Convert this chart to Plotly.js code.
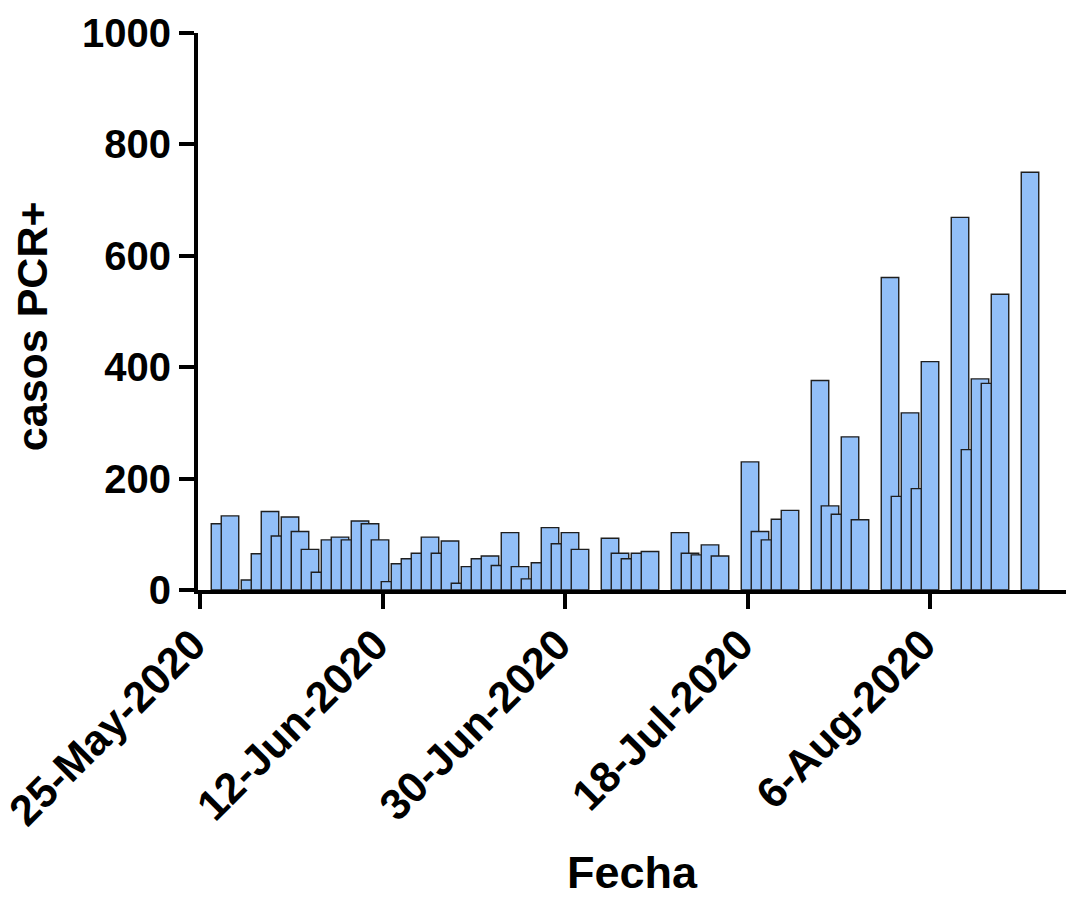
<!DOCTYPE html>
<html>
<head>
<meta charset="utf-8">
<script src="https://cdn.plot.ly/plotly-3.0.1.min.js"></script>
<style>
  html, body { margin: 0; padding: 0; background: #ffffff; }
  #chart { width: 1068px; height: 897px; }
</style>
</head>
<body>
<div id="chart"></div>
<script>
// Daily PCR-positive cases
const fechas = [
  '2020-05-27', '2020-05-28', '2020-05-30', '2020-05-31', '2020-06-01', '2020-06-02',
  '2020-06-03', '2020-06-04', '2020-06-05', '2020-06-06', '2020-06-07', '2020-06-08',
  '2020-06-09', '2020-06-10', '2020-06-11', '2020-06-12', '2020-06-13', '2020-06-14',
  '2020-06-15', '2020-06-16', '2020-06-17', '2020-06-18', '2020-06-19', '2020-06-20',
  '2020-06-21', '2020-06-22', '2020-06-23', '2020-06-24', '2020-06-25', '2020-06-26',
  '2020-06-27', '2020-06-28', '2020-06-29', '2020-06-30', '2020-07-01', '2020-07-02',
  '2020-07-05', '2020-07-06', '2020-07-07', '2020-07-08', '2020-07-09',
  '2020-07-12', '2020-07-13', '2020-07-14', '2020-07-15', '2020-07-16',
  '2020-07-19', '2020-07-20', '2020-07-21', '2020-07-22', '2020-07-23',
  '2020-07-26', '2020-07-27', '2020-07-28', '2020-07-29', '2020-07-30',
  '2020-08-02', '2020-08-03', '2020-08-04', '2020-08-05', '2020-08-06',
  '2020-08-09', '2020-08-10', '2020-08-11', '2020-08-12', '2020-08-13',
  '2020-08-16'
];
const casos = [
  119, 133, 18, 65, 141, 97,
  131, 105, 73, 32, 90, 95,
  90, 124, 119, 90, 15, 47,
  56, 66, 95, 66, 88, 12,
  42, 56, 61, 44, 103, 42,
  20, 49, 112, 83, 103, 73,
  93, 66, 56, 66, 69,
  103, 66, 63, 81, 61,
  230, 105, 90, 127, 143,
  376, 151, 136, 275, 126,
  561, 168, 318, 182, 410,
  669, 252, 379, 371, 531,
  750
];

// Date ticks (evenly spaced every 18.25 days)
const tickFechas = ['2020-05-25 00:00', '2020-06-12 06:00', '2020-06-30 12:00', '2020-07-18 18:00', '2020-08-06 00:00'];
const tickTextos = ['25-May-2020', '12-Jun-2020', '30-Jun-2020', '18-Jul-2020', '6-Aug-2020'];
const yTicks = [0, 200, 400, 600, 800, 1000];

const tituloX = 'Fecha';
const tituloY = 'casos PCR+';

const DAY = 86400000;
const fontFam = 'Arial, "Liberation Sans", sans-serif';

const trace = {
  type: 'bar',
  x: fechas,
  y: casos,
  width: fechas.map(() => 1.75 * DAY),
  marker: {
    color: '#92bff8',
    line: { color: '#1f1f1f', width: 1.4 }
  },
  hoverinfo: 'x+y'
};

const layout = {
  width: 1068,
  height: 897,
  margin: { l: 198, r: 2, t: 33, b: 307 },
  paper_bgcolor: '#ffffff',
  plot_bgcolor: '#ffffff',
  showlegend: false,
  font: { family: fontFam, color: '#000000' },
  xaxis: {
    type: 'date',
    range: ['2020-05-24 19:12', '2020-08-19 14:24'],
    tickmode: 'array',
    tickvals: tickFechas,
    ticktext: tickTextos,
    tickangle: -45,
    ticks: 'outside',
    ticklen: 15,
    tickwidth: 4,
    tickcolor: '#000000',
    ticklabelshift: -7,
    ticklabelstandoff: -7,
    ticklabeloverflow: 'allow',
    showline: true,
    linewidth: 4,
    linecolor: '#000000',
    showgrid: false,
    zeroline: false,
    automargin: false,
    tickfont: { family: fontFam, size: 43, weight: 'bold', color: '#000000' },
    fixedrange: true
  },
  yaxis: {
    range: [0, 1000],
    tickmode: 'array',
    tickvals: yTicks,
    ticks: 'outside',
    ticklen: 15,
    tickwidth: 4,
    tickcolor: '#000000',
    showline: true,
    linewidth: 4,
    linecolor: '#000000',
    showgrid: false,
    zeroline: false,
    automargin: false,
    tickfont: { family: fontFam, size: 40, weight: 'bold', color: '#000000' },
    fixedrange: true
  },
  annotations: [
    {
      text: tituloX,
      xref: 'paper', yref: 'paper',
      x: 0.5, y: -0.508,
      xanchor: 'center', yanchor: 'middle',
      showarrow: false,
      font: { family: fontFam, size: 45, weight: 'bold', color: '#000000' }
    },
    {
      text: tituloY,
      xref: 'paper', yref: 'paper',
      x: -0.191, y: 0.474,
      xanchor: 'center', yanchor: 'middle',
      textangle: -90,
      showarrow: false,
      font: { family: fontFam, size: 43, weight: 'bold', color: '#000000' }
    }
  ],
  bargap: 0
};

Plotly.newPlot('chart', [trace], layout, { displayModeBar: false, staticPlot: true });
</script>
</body>
</html>
